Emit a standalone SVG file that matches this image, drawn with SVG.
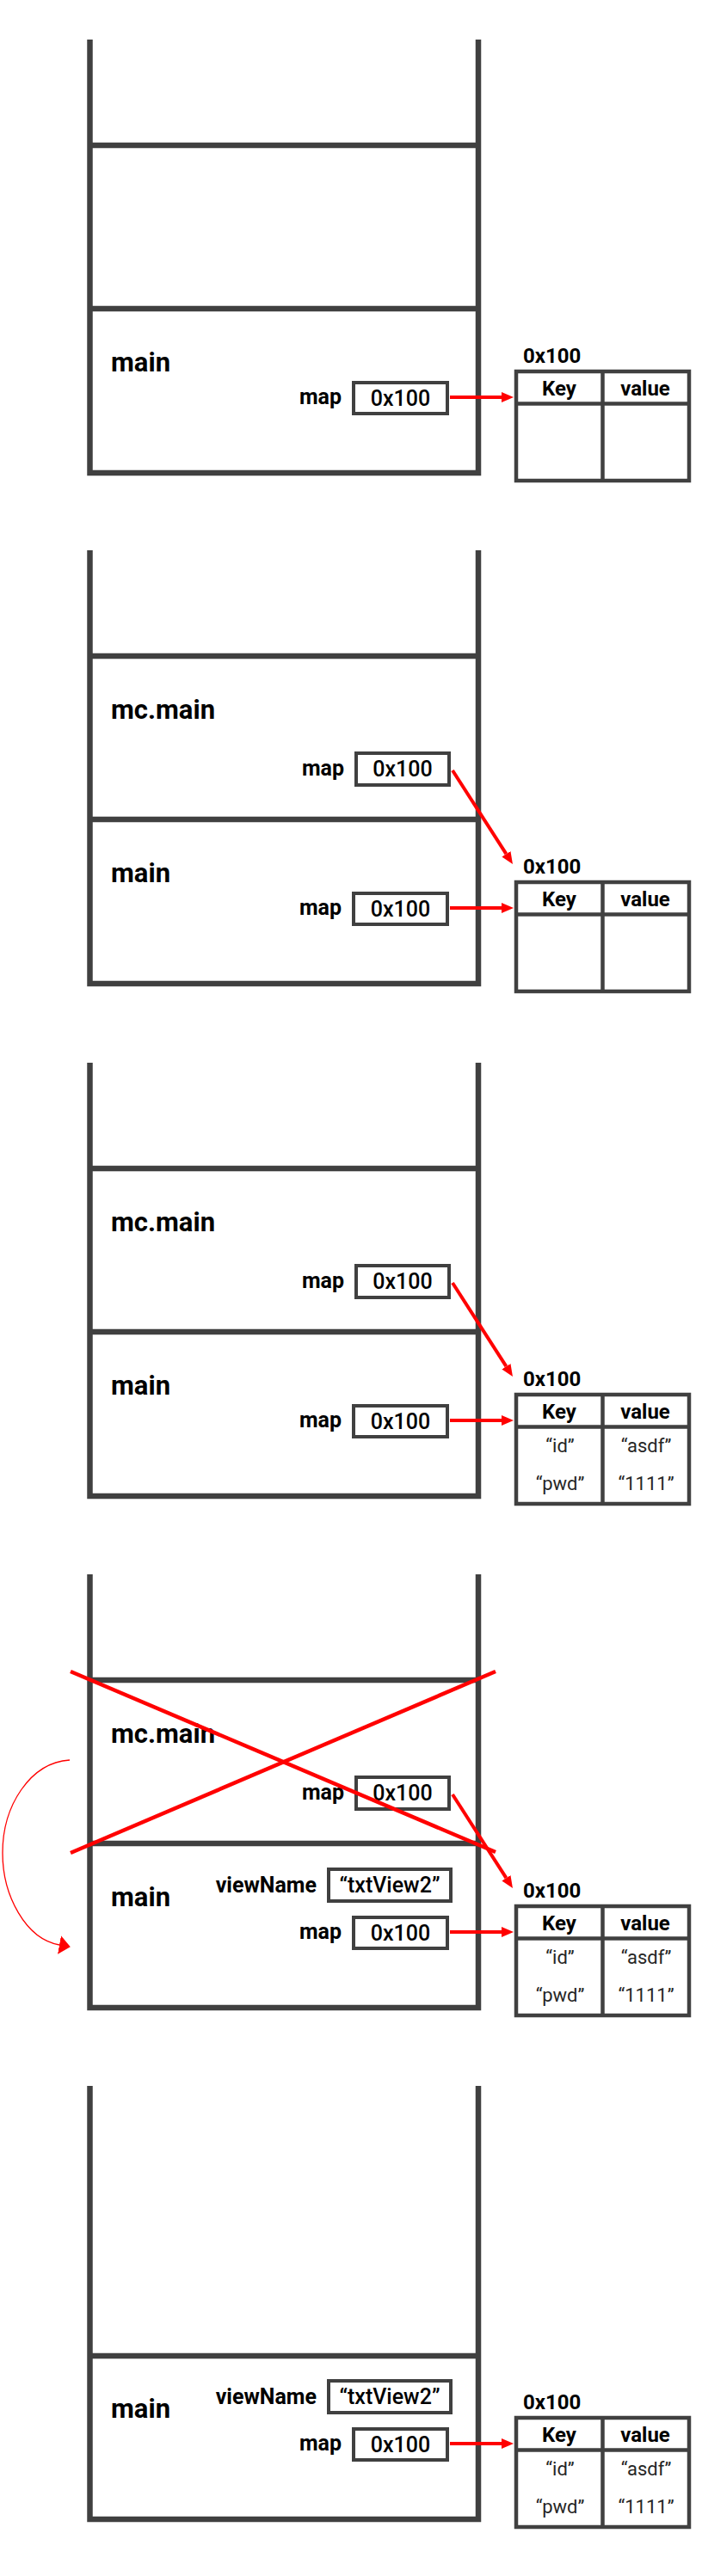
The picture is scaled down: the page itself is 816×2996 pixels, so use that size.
<svg xmlns="http://www.w3.org/2000/svg" width="816" height="2996" viewBox="0 0 816 2996">
<defs>
<style>
.frame{fill:none;stroke:#404040;stroke-width:6.5;stroke-linejoin:miter}
.div{stroke:#404040;stroke-width:6.5}
.box{fill:#fff;stroke:#404040;stroke-width:4}
.tbl{fill:#fff;stroke:#404040;stroke-width:4.5}
.tline{stroke:#404040;stroke-width:4.5}
text{font-family:Roboto,"Liberation Sans",sans-serif;fill:#000}
.fname{font-weight:bold;font-size:31px}
.lbl{font-weight:bold;font-size:25px;text-anchor:end}
.val{font-size:25px;text-anchor:middle;font-weight:500}
.addr{font-weight:bold;font-size:24px}
.hdr{font-weight:bold;font-size:24px;text-anchor:middle}
.cell{font-size:22px;text-anchor:middle;fill:#262626}
.ref{stroke:#ff0000;stroke-width:4;fill:none;marker-end:url(#ah)}
.cross{stroke:#ff0000;stroke-width:4.5}
.flow{stroke:#ff0000;stroke-width:1.3;fill:none;marker-end:url(#ah2)}
</style>
<marker id="ah" markerUnits="userSpaceOnUse" markerWidth="14" markerHeight="12" refX="0" refY="6" orient="auto" viewBox="0 0 14 12"><path d="M0,0 L14,6 L0,12 z" fill="#ff0000"/></marker>
<marker id="ah2" markerUnits="userSpaceOnUse" markerWidth="13" markerHeight="22" refX="0" refY="11" orient="auto" viewBox="0 0 13 22"><path d="M0,0 L13,11 L0,22 z" fill="#ff0000"/></marker>
</defs>
<rect width="816" height="2996" fill="#fff"/>

<!-- Panel 1 -->
<g id="panel1">
 <g id="p1-stack"><path class="frame" d="M104.5,46 V550 H556 V46"/><line class="div" x1="104.5" y1="169" x2="556" y2="169"/><line class="div" x1="104.5" y1="359" x2="556" y2="359"/></g>
 <g id="p1-main"><text class="fname" x="129" y="432">main</text></g>
 <g id="p1-main-map"><text class="lbl" x="397" y="470">map</text><rect class="box" x="411" y="445" width="109" height="36"/><text class="val" x="465.5" y="472">0x100</text></g>
 <g id="p1-heap"><text class="addr" x="608" y="422">0x100</text><rect class="tbl" x="600" y="432" width="201" height="127"/><line class="tline" x1="600" y1="469.5" x2="801" y2="469.5"/><line class="tline" x1="700.5" y1="432" x2="700.5" y2="559"/><text class="hdr" x="650" y="460">Key</text><text class="hdr" x="750" y="460">value</text></g>
 <g id="p1-connectors"><line class="ref" x1="523" y1="462" x2="583" y2="462"/></g>
</g>

<!-- Panel 2 -->
<g id="panel2" transform="translate(0,594)">
 <g id="p2-stack"><path class="frame" d="M104.5,46 V550 H556 V46"/><line class="div" x1="104.5" y1="169" x2="556" y2="169"/><line class="div" x1="104.5" y1="359" x2="556" y2="359"/></g>
 <g id="p2-mcmain"><text class="fname" x="129" y="242">mc.main</text><text class="lbl" x="400" y="308">map</text><rect class="box" x="414" y="282" width="108" height="37"/><text class="val" x="468" y="309">0x100</text></g>
 <g id="p2-main"><text class="fname" x="129" y="432">main</text><text class="lbl" x="397" y="470">map</text><rect class="box" x="411" y="445" width="109" height="36"/><text class="val" x="465.5" y="472">0x100</text></g>
 <g id="p2-heap"><text class="addr" x="608" y="422">0x100</text><rect class="tbl" x="600" y="432" width="201" height="127"/><line class="tline" x1="600" y1="469.5" x2="801" y2="469.5"/><line class="tline" x1="700.5" y1="432" x2="700.5" y2="559"/><text class="hdr" x="650" y="460">Key</text><text class="hdr" x="750" y="460">value</text></g>
 <g id="p2-connectors"><line class="ref" x1="523" y1="462" x2="583" y2="462"/><line class="ref" x1="526" y1="302" x2="588.4" y2="399.2"/></g>
</g>

<!-- Panel 3 -->
<g id="panel3" transform="translate(0,1190)">
 <g id="p3-stack"><path class="frame" d="M104.5,46 V550 H556 V46"/><line class="div" x1="104.5" y1="169" x2="556" y2="169"/><line class="div" x1="104.5" y1="359" x2="556" y2="359"/></g>
 <g id="p3-mcmain"><text class="fname" x="129" y="242">mc.main</text><text class="lbl" x="400" y="308">map</text><rect class="box" x="414" y="282" width="108" height="37"/><text class="val" x="468" y="309">0x100</text></g>
 <g id="p3-main"><text class="fname" x="129" y="432">main</text><text class="lbl" x="397" y="470">map</text><rect class="box" x="411" y="445" width="109" height="36"/><text class="val" x="465.5" y="472">0x100</text></g>
 <g id="p3-heap"><text class="addr" x="608" y="422">0x100</text><rect class="tbl" x="600" y="432" width="201" height="127"/><line class="tline" x1="600" y1="469.5" x2="801" y2="469.5"/><line class="tline" x1="700.5" y1="432" x2="700.5" y2="559"/><text class="hdr" x="650" y="460">Key</text><text class="hdr" x="750" y="460">value</text><text class="cell" x="651" y="499">“id”</text><text class="cell" x="751" y="499">“asdf”</text><text class="cell" x="651" y="543">“pwd”</text><text class="cell" x="751" y="543">“1111”</text></g>
 <g id="p3-connectors"><line class="ref" x1="523" y1="462" x2="583" y2="462"/><line class="ref" x1="526" y1="302" x2="588.4" y2="399.2"/></g>
</g>

<!-- Panel 4 -->
<g id="panel4" transform="translate(0,1785)">
 <g id="p4-stack"><path class="frame" d="M104.5,46 V550 H556 V46"/><line class="div" x1="104.5" y1="169" x2="556" y2="169"/><line class="div" x1="104.5" y1="359" x2="556" y2="359"/></g>
 <g id="p4-mcmain"><text class="fname" x="129" y="242">mc.main</text><text class="lbl" x="400" y="308">map</text><rect class="box" x="414" y="282" width="108" height="37"/><text class="val" x="468" y="309">0x100</text></g>
 <g id="p4-main"><text class="fname" x="129" y="432">main</text><text class="lbl" x="368" y="416">viewName</text><rect class="box" x="382" y="389" width="142" height="37"/><text class="val" x="453" y="416">“txtView2”</text><text class="lbl" x="397" y="470">map</text><rect class="box" x="411" y="445" width="109" height="36"/><text class="val" x="465.5" y="472">0x100</text></g>
 <g id="p4-heap"><text class="addr" x="608" y="422">0x100</text><rect class="tbl" x="600" y="432" width="201" height="127"/><line class="tline" x1="600" y1="469.5" x2="801" y2="469.5"/><line class="tline" x1="700.5" y1="432" x2="700.5" y2="559"/><text class="hdr" x="650" y="460">Key</text><text class="hdr" x="750" y="460">value</text><text class="cell" x="651" y="499">“id”</text><text class="cell" x="751" y="499">“asdf”</text><text class="cell" x="651" y="543">“pwd”</text><text class="cell" x="751" y="543">“1111”</text></g>
 <g id="p4-connectors"><line class="ref" x1="523" y1="462" x2="583" y2="462"/><line class="ref" x1="526" y1="302" x2="588.4" y2="399.2"/><line class="cross" x1="82" y1="159" x2="576" y2="369"/><line class="cross" x1="82" y1="370" x2="576" y2="159"/><path class="flow" d="M81,262 C35,265 3,315 3,370 C3,420 30,470 69,477"/></g>
</g>

<!-- Panel 5 -->
<g id="panel5" transform="translate(0,2380)">
 <g id="p5-stack"><path class="frame" d="M104.5,46 V550 H556 V46"/><line class="div" x1="104.5" y1="360" x2="556" y2="360"/></g>
 <g id="p5-main"><text class="fname" x="129" y="432">main</text><text class="lbl" x="368" y="416">viewName</text><rect class="box" x="382" y="389" width="142" height="37"/><text class="val" x="453" y="416">“txtView2”</text><text class="lbl" x="397" y="470">map</text><rect class="box" x="411" y="445" width="109" height="36"/><text class="val" x="465.5" y="472">0x100</text></g>
 <g id="p5-heap"><text class="addr" x="608" y="422">0x100</text><rect class="tbl" x="600" y="432" width="201" height="127"/><line class="tline" x1="600" y1="469.5" x2="801" y2="469.5"/><line class="tline" x1="700.5" y1="432" x2="700.5" y2="559"/><text class="hdr" x="650" y="460">Key</text><text class="hdr" x="750" y="460">value</text><text class="cell" x="651" y="499">“id”</text><text class="cell" x="751" y="499">“asdf”</text><text class="cell" x="651" y="543">“pwd”</text><text class="cell" x="751" y="543">“1111”</text></g>
 <g id="p5-connectors"><line class="ref" x1="523" y1="462" x2="583" y2="462"/></g>
</g>
</svg>
